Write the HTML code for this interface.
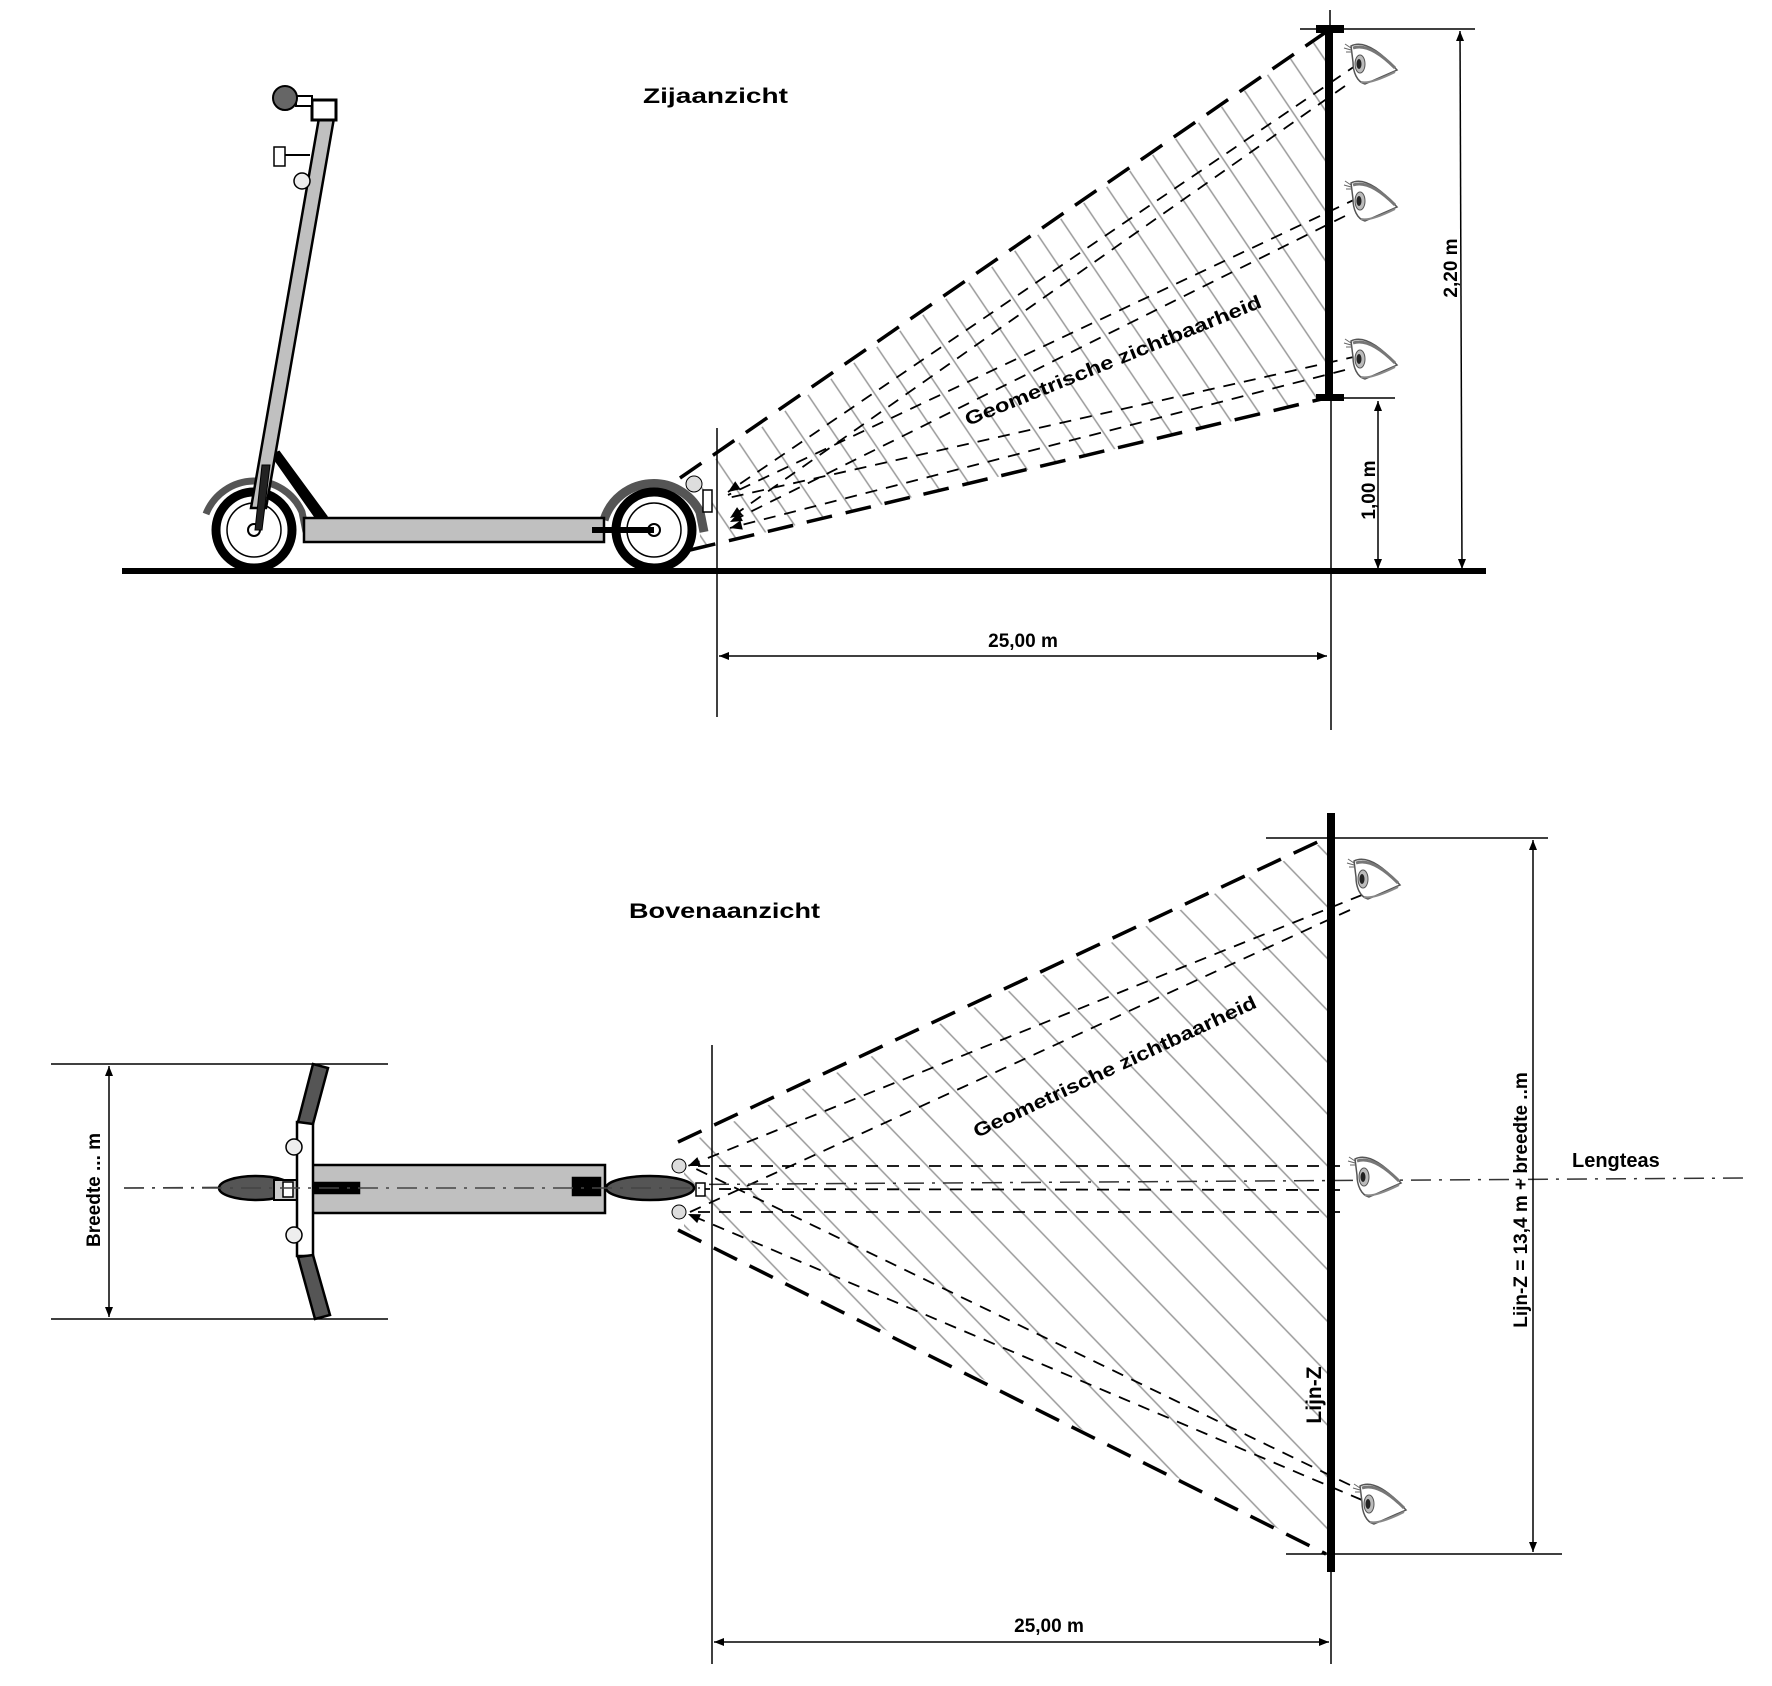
<!DOCTYPE html>
<html><head><meta charset="utf-8"><style>
html,body{margin:0;padding:0;background:#fff}
svg{display:block}
text{font-family:"Liberation Sans",Arial,sans-serif;font-weight:bold;fill:#000}
</style></head><body>
<svg width="1772" height="1686" viewBox="0 0 1772 1686" xmlns="http://www.w3.org/2000/svg">
<defs>
<marker id="ah" viewBox="0 0 10 10" refX="10" refY="5" markerWidth="10" markerHeight="10" orient="auto-start-reverse" markerUnits="userSpaceOnUse"><path d="M0,1 L10,5 L0,9 Z" fill="#000"/></marker>
<marker id="ah2" viewBox="0 0 10 10" refX="10" refY="5" markerWidth="14" markerHeight="12" orient="auto" markerUnits="userSpaceOnUse"><path d="M0,1 L10,5 L0,9 Z" fill="#000"/></marker>
<pattern id="h1" patternUnits="userSpaceOnUse" width="28" height="40" patternTransform="rotate(-34)"><line x1="1" y1="0" x2="1" y2="40" stroke="#999" stroke-width="1.5"/></pattern>
<pattern id="h2" patternUnits="userSpaceOnUse" width="36" height="40" patternTransform="rotate(-44)"><line x1="1" y1="0" x2="1" y2="40" stroke="#999" stroke-width="1.5"/></pattern>
<symbol id="eye" viewBox="0 0 56 50" overflow="visible">
<path d="M8,6 C20,0 36,10 54,30 L22,44 C14,42 10,32 10,22 Z" fill="#fff" stroke="#555" stroke-width="1.5"/>
<path d="M10,8 C22,4 36,12 52,28" fill="none" stroke="#777" stroke-width="3"/>
<path d="M18,42 C26,44 40,38 52,32" fill="none" stroke="#888" stroke-width="2"/>
<ellipse cx="17" cy="24" rx="5" ry="9" fill="#bbb" stroke="#555"/>
<ellipse cx="16" cy="24" rx="2.5" ry="5" fill="#222"/>
<path d="M2,4 L8,8 M1,8 L8,10 M3,12 L9,12" stroke="#666" stroke-width="1"/>
</symbol>
</defs>

<!-- ========== SIDE VIEW ========== -->
<text x="643" y="103" font-size="21" textLength="145" lengthAdjust="spacingAndGlyphs">Zijaanzicht</text>

<polygon points="700,470 1329,32 1329,398 700,548" fill="url(#h1)"/>
<line x1="680" y1="478" x2="1326" y2="32" stroke="#000" stroke-width="3.5" stroke-dasharray="26,14"/>
<line x1="690" y1="550" x2="1326" y2="398" stroke="#000" stroke-width="3.5" stroke-dasharray="26,14"/>
<g stroke="#000" stroke-width="1.8" stroke-dasharray="12,9" fill="none">
<line x1="1358" y1="64" x2="728" y2="492" marker-end="url(#ah2)"/>
<line x1="1345" y1="86" x2="730" y2="518" marker-end="url(#ah2)"/>
<line x1="1358" y1="198" x2="728" y2="495"/>
<line x1="1345" y1="216" x2="730" y2="522" marker-end="url(#ah2)"/>
<line x1="1358" y1="356" x2="728" y2="498"/>
<line x1="1345" y1="370" x2="730" y2="528" marker-end="url(#ah2)"/>
</g>
<text transform="translate(968,426) rotate(-22)" font-size="19" textLength="318" lengthAdjust="spacingAndGlyphs">Geometrische zichtbaarheid</text>

<rect x="1325" y="29" width="8" height="369" fill="#000"/>
<rect x="1316" y="25" width="28" height="8" fill="#000"/>
<rect x="1316" y="394" width="28" height="7" fill="#000"/>
<line x1="1330" y1="10" x2="1330" y2="30" stroke="#000" stroke-width="1.5"/>
<line x1="1300" y1="29" x2="1475" y2="29" stroke="#000" stroke-width="1.5"/>
<line x1="1333" y1="398" x2="1395" y2="398" stroke="#000" stroke-width="1.5"/>
<line x1="1331" y1="398" x2="1331" y2="730" stroke="#000" stroke-width="1.5"/>
<line x1="1378" y1="401" x2="1378" y2="569" stroke="#000" stroke-width="1.5" marker-start="url(#ah)" marker-end="url(#ah)"/>
<line x1="1460" y1="31" x2="1462" y2="569" stroke="#000" stroke-width="1.5" marker-start="url(#ah)" marker-end="url(#ah)"/>
<text transform="translate(1375,490) rotate(-90)" font-size="19" text-anchor="middle">1,00 m</text>
<text transform="translate(1457,268) rotate(-90)" font-size="19" text-anchor="middle">2,20 m</text>
<use href="#eye" x="1343" y="40" width="56" height="50"/>
<use href="#eye" x="1343" y="177" width="56" height="50"/>
<use href="#eye" x="1343" y="335" width="56" height="50"/>

<line x1="122" y1="571" x2="1486" y2="571" stroke="#000" stroke-width="6"/>
<line x1="717" y1="428" x2="717" y2="717" stroke="#000" stroke-width="1.5"/>
<line x1="719" y1="656" x2="1327" y2="656" stroke="#000" stroke-width="1.5" marker-start="url(#ah)" marker-end="url(#ah)"/>
<text x="1023" y="647" font-size="19" text-anchor="middle">25,00 m</text>

<!-- scooter side -->
<g stroke="#000" stroke-width="2.5">
<path d="M206,514 A52,52 0 0 1 302,512 L306,532" fill="none" stroke="#555" stroke-width="7"/>
<path d="M604,520 A52,52 0 0 1 700,512 L704,532" fill="none" stroke="#555" stroke-width="9"/>
<circle cx="254" cy="530" r="38" fill="#fff" stroke-width="9"/>
<circle cx="254" cy="530" r="27" fill="none" stroke-width="1.5"/>
<circle cx="254" cy="530" r="6" fill="#fff" stroke-width="2"/>
<circle cx="654" cy="530" r="38" fill="#fff" stroke-width="9"/>
<circle cx="654" cy="530" r="27" fill="none" stroke-width="1.5"/>
<circle cx="654" cy="530" r="6" fill="#fff" stroke-width="2"/>
<polygon points="272,455 279,452 326,516 317,519" fill="#000"/>
<rect x="304" y="518" width="300" height="24" fill="#c0c0c0"/>
<line x1="592" y1="530" x2="654" y2="530" stroke-width="6"/>
<polygon points="319,118 334,118 266,508 251,508" fill="#c0c0c0"/>
<polygon points="262,465 270,465 262,530 255,530" fill="#222" stroke-width="1"/>
<rect x="312" y="100" width="24" height="20" fill="#fff" stroke-width="3"/>
<rect x="296" y="96" width="16" height="10" fill="#fff" stroke-width="2"/>
<circle cx="285" cy="98" r="12" fill="#666" stroke-width="2"/>
<rect x="274" y="147" width="11" height="19" fill="#fff" stroke-width="1.5"/>
<line x1="285" y1="155" x2="310" y2="155" stroke-width="2"/>
<circle cx="302" cy="181" r="8" fill="#eee" stroke-width="1.5"/>
<circle cx="694" cy="484" r="8" fill="#ddd" stroke-width="1"/>
<rect x="703" y="490" width="9" height="22" fill="#fff" stroke-width="1.5"/>
</g>

<!-- ========== TOP VIEW ========== -->
<text x="629" y="918" font-size="21" textLength="191" lengthAdjust="spacingAndGlyphs">Bovenaanzicht</text>

<polygon points="684,1145 1328,840 1328,1554 684,1228" fill="url(#h2)"/>
<line x1="678" y1="1142" x2="1326" y2="838" stroke="#000" stroke-width="3.5" stroke-dasharray="26,14"/>
<line x1="678" y1="1230" x2="1326" y2="1554" stroke="#000" stroke-width="3.5" stroke-dasharray="26,14"/>
<g stroke="#000" stroke-width="1.8" stroke-dasharray="12,9" fill="none">
<line x1="1362" y1="895" x2="688" y2="1166" marker-end="url(#ah2)"/>
<line x1="1350" y1="910" x2="690" y2="1212"/>
<line x1="1340" y1="1166" x2="690" y2="1166"/>
<line x1="1340" y1="1190" x2="704" y2="1189"/>
<line x1="1340" y1="1212" x2="690" y2="1212"/>
<line x1="1362" y1="1500" x2="688" y2="1214" marker-end="url(#ah2)"/>
<line x1="1350" y1="1485" x2="690" y2="1166"/>
</g>
<text transform="translate(977,1138) rotate(-25)" font-size="19" textLength="310" lengthAdjust="spacingAndGlyphs">Geometrische zichtbaarheid</text>

<line x1="124" y1="1188" x2="1746" y2="1178" stroke="#333" stroke-width="1.5" stroke-dasharray="20,8,3,8"/>
<text x="1572" y="1167" font-size="20">Lengteas</text>

<rect x="1327" y="813" width="8" height="759" fill="#000"/>
<line x1="1266" y1="838" x2="1548" y2="838" stroke="#000" stroke-width="1.5"/>
<line x1="1286" y1="1554" x2="1562" y2="1554" stroke="#000" stroke-width="1.5"/>
<line x1="1533" y1="840" x2="1533" y2="1552" stroke="#000" stroke-width="1.5" marker-start="url(#ah)" marker-end="url(#ah)"/>
<text transform="translate(1527,1200) rotate(-90)" font-size="19" text-anchor="middle">Lijn-Z = 13,4 m + breedte ..m</text>
<text transform="translate(1321,1395) rotate(-90)" font-size="21" text-anchor="middle">Lijn-Z</text>
<use href="#eye" x="1346" y="855" width="56" height="50"/>
<use href="#eye" x="1347" y="1153" width="56" height="50"/>
<use href="#eye" x="1352" y="1480" width="56" height="50"/>

<line x1="712" y1="1045" x2="712" y2="1664" stroke="#000" stroke-width="1.5"/>
<line x1="1331" y1="1572" x2="1331" y2="1664" stroke="#000" stroke-width="1.5"/>
<line x1="714" y1="1642" x2="1329" y2="1642" stroke="#000" stroke-width="1.5" marker-start="url(#ah)" marker-end="url(#ah)"/>
<text x="1049" y="1632" font-size="19" text-anchor="middle">25,00 m</text>

<line x1="51" y1="1064" x2="388" y2="1064" stroke="#000" stroke-width="1.5"/>
<line x1="51" y1="1319" x2="388" y2="1319" stroke="#000" stroke-width="1.5"/>
<line x1="109" y1="1066" x2="109" y2="1317" stroke="#000" stroke-width="1.5" marker-start="url(#ah)" marker-end="url(#ah)"/>
<text transform="translate(100,1190) rotate(-90)" font-size="19" text-anchor="middle">Breedte ... m</text>

<g stroke="#000" stroke-width="2.5">
<ellipse cx="256" cy="1188" rx="37" ry="12" fill="#555"/>
<ellipse cx="650" cy="1188" rx="44" ry="12" fill="#555"/>
<rect x="310" y="1165" width="295" height="48" fill="#c0c0c0"/>
<rect x="313" y="1183" width="46" height="10" fill="#000"/>
<rect x="573" y="1178" width="27" height="17" fill="#000"/>
<rect x="274" y="1180" width="23" height="20" fill="#ccc" stroke-width="2"/>
<rect x="283" y="1182" width="10" height="15" fill="#fff" stroke-width="1.5"/>
<rect x="297" y="1122" width="16" height="134" fill="#fff"/>
<polygon points="298,1122 313,1124 328,1068 313,1064" fill="#555"/>
<polygon points="298,1257 313,1255 330,1315 315,1319" fill="#555"/>
<ellipse cx="294" cy="1147" rx="8" ry="8" fill="#eee" stroke-width="1.5"/>
<ellipse cx="294" cy="1235" rx="8" ry="8" fill="#eee" stroke-width="1.5"/>
<circle cx="679" cy="1166" r="7" fill="#ddd" stroke-width="1"/>
<circle cx="679" cy="1212" r="7" fill="#ddd" stroke-width="1"/>
<rect x="696" y="1183" width="9" height="13" fill="#fff" stroke-width="1.5"/>
</g>
<line x1="124" y1="1188" x2="700" y2="1188" stroke="#444" stroke-width="1.5" stroke-dasharray="20,8,3,8"/>
</svg>
</body></html>
